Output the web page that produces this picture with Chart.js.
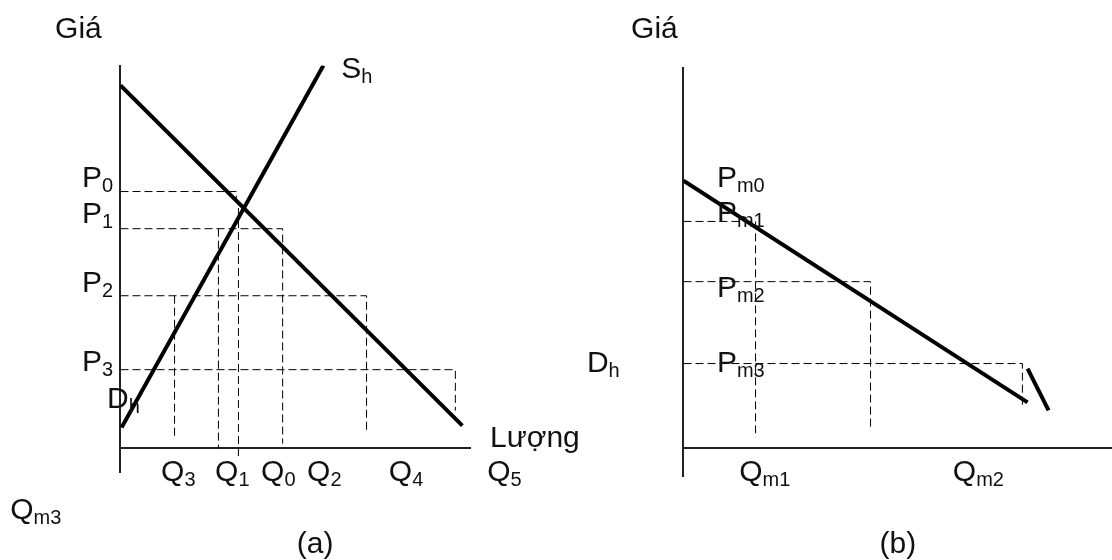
<!DOCTYPE html>
<html>
<head>
<meta charset="utf-8">
<script src="https://cdn.jsdelivr.net/npm/chart.js"></script>
<style>
  html, body { margin: 0; padding: 0; background: #fff; }
  #wrap { position: relative; width: 1112px; height: 560px; overflow: hidden; }
  canvas { position: absolute; top: 0; }
  #chartA { left: 0; }
  #chartB { left: 556px; }
</style>
</head>
<body>
<div id="wrap">
  <canvas id="chartA" width="640" height="560"></canvas>
  <canvas id="chartB" width="556" height="560"></canvas>
</div>
<script>
// values, arbitrary units (quantity 0-100, price 0-100)

// panel (a)
const demandA = [[0, 94.8], [97.4, 6.0]];
const supplyA = [[0.3, 5.5], [57.8, 100]];
const guidesA = [
  [[0, 67.1], [33.0, 67.1], [33.0, 64.5]],
  [[0, 57.4], [46.2, 57.4], [46.2, 1.3]],
  [[0, 39.9], [70.1, 39.9], [70.1, 4.7]],
  [[0, 20.6], [95.4, 20.6], [95.4, 9.9]],
  [[15.4, 39.9], [15.4, 2.9]],
  [[27.9, 57.4], [27.9, 0]],
  [[33.6, 62.8], [33.6, -2.3]]
];
// [text, subscript, x, y]
const labelsA = [
  ['Giá', '', -18.5, 107.0],
  ['S', 'h', 63.0, 96.6],
  ['P', '0', -10.8, 68.1],
  ['P', '1', -10.8, 58.7],
  ['P', '2', -10.8, 40.7],
  ['P', '3', -10.8, 20.1],
  ['D', 'h', -3.7, 10.4],
  ['Lượng', '', 105.4, 0.3],
  ['Q', '3', 11.7, -8.6],
  ['Q', '1', 27.1, -8.6],
  ['Q', '0', 40.2, -8.6],
  ['Q', '2', 53.3, -8.6],
  ['Q', '4', 76.6, -8.6],
  ['Q', '5', 104.6, -8.6],
  ['Q', 'm3', -31.3, -18.5]
];
const captionA = ['(a)', 55.6, -27.4];

// panel (b)
const demandB = [[0, 70.3], [80.2, 12.1]];
const extraB = [[80.2, 21.0], [85.1, 10.0]];
const guidesB = [
  [[0, 59.6], [16.8, 59.6], [16.8, 2.9]],
  [[0, 43.8], [43.6, 43.8], [43.6, 4.7]],
  [[0, 22.3], [79.0, 22.3], [79.0, 11.3]]
];
const labelsB = [
  ['Giá', '', -12.1, 107.6],
  ['P', 'm0', 7.9, 68.5],
  ['P', 'm1', 7.9, 59.3],
  ['P', 'm2', 7.9, 39.6],
  ['P', 'm3', 7.9, 19.9],
  ['D', 'h', -22.4, 19.9],
  ['Q', 'm1', 13.1, -8.7],
  ['Q', 'm2', 62.9, -8.7]
];
const captionB = ['(b)', 50.1, -27.6];

const FONT = '"Liberation Sans", Arial, sans-serif';
const INK = '#111';

const pts = arr => arr.map(p => ({ x: p[0], y: p[1] }));

function thick(arr) {
  return { data: pts(arr), borderColor: '#000', borderWidth: 4, borderCapStyle: 'butt' };
}
function dashed(arr) {
  return { data: pts(arr), borderColor: '#000', borderWidth: 1, borderDash: [8, 4] };
}

// the two axes, crossing at (0, 0); half-pixel shift keeps 1px dashes crisp
const axesPlugin = {
  id: 'axes',
  beforeDatasetsDraw(chart) {
    const { ctx, chartArea: a, scales: { x, y } } = chart;
    const x0 = Math.round(x.getPixelForValue(0));
    const y0 = Math.round(y.getPixelForValue(0));
    ctx.save();
    ctx.strokeStyle = '#222';
    ctx.lineWidth = 2;
    ctx.beginPath();
    ctx.moveTo(x0, a.top);
    ctx.lineTo(x0, a.bottom);
    ctx.moveTo(a.left, y0);
    ctx.lineTo(a.right, y0);
    ctx.stroke();
    ctx.restore();
    ctx.save();
    ctx.translate(0.5, 0.5);
  },
  afterDatasetsDraw(chart) {
    chart.ctx.restore();
  }
};

const textPlugin = {
  id: 'texts',
  afterDraw(chart, args, opts) {
    const { ctx, scales: { x, y } } = chart;
    ctx.save();
    ctx.fillStyle = INK;
    ctx.textBaseline = 'alphabetic';
    for (const [t, s, lx, ly] of opts.labels) {
      const px = x.getPixelForValue(lx);
      const py = y.getPixelForValue(ly);
      ctx.font = '30px ' + FONT;
      ctx.textAlign = 'left';
      ctx.fillText(t, px, py);
      if (s) {
        const w = ctx.measureText(t).width;
        ctx.font = '20px ' + FONT;
        ctx.fillText(s, px + w, py + 5);
      }
    }
    const [ct, cx, cy] = opts.caption;
    ctx.font = '30px ' + FONT;
    ctx.textAlign = 'center';
    ctx.fillText(ct, x.getPixelForValue(cx), y.getPixelForValue(cy));
    ctx.restore();
  }
};

function makeChart(id, lines, guides, labels, caption, yMin, padding) {
  return new Chart(document.getElementById(id), {
    type: 'scatter',
    data: {
      datasets: [...guides.map(dashed), ...lines.map(thick)]
    },
    options: {
      responsive: false,
      animation: false,
      showLine: true,
      layout: { padding },
      elements: { point: { radius: 0, hoverRadius: 0 } },
      scales: {
        x: { type: 'linear', min: 0, max: 100, display: false },
        y: { type: 'linear', min: yMin, max: 100, display: false }
      },
      plugins: {
        legend: { display: false },
        tooltip: { enabled: false },
        texts: { labels, caption }
      }
    },
    plugins: [axesPlugin, textPlugin]
  });
}

makeChart('chartA', [demandA, supplyA], guidesA, labelsA, captionA, -6.5,
  { left: 120, right: 169, top: 65, bottom: 87 });
makeChart('chartB', [demandB, extraB], guidesB, labelsB, captionB, -7.6,
  { left: 127, right: 0, top: 67, bottom: 83 });
</script>
</body>
</html>
